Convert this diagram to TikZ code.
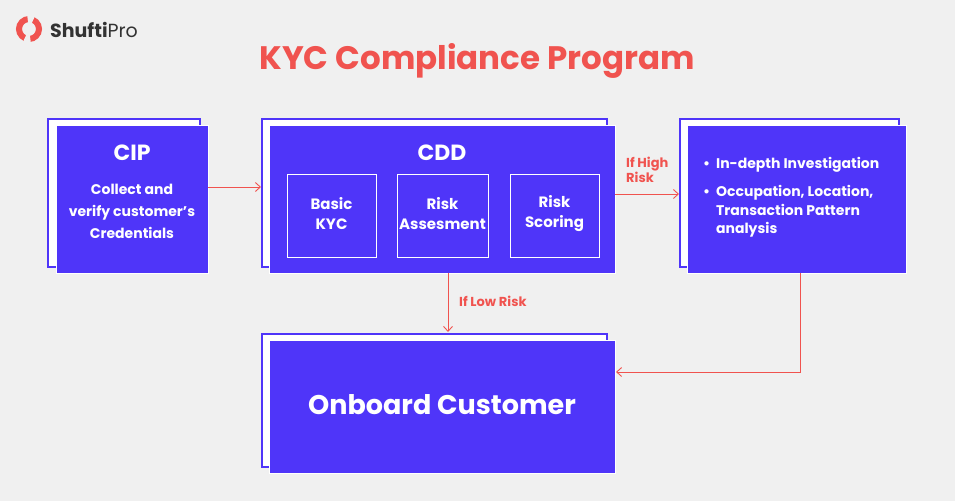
\documentclass[tikz,border=0pt]{standalone}
\usepackage{fontspec}
\setmainfont{Poppins}
\usetikzlibrary{arrows.meta}
\definecolor{bg}{HTML}{F0F0F0}
\definecolor{bl}{HTML}{4F35F9}
\definecolor{rd}{HTML}{F0534F}
\tikzset{
 back/.style={draw=bl,line width=2.5pt,fill=white},
 front/.style={fill=bl,draw=white,line width=0.8pt},
 inner/.style={draw=white,line width=0.8pt},
 arr/.style={draw=rd,line width=0.9pt,-{Straight Barb[length=5pt,width=9pt]}},
 wt/.style={text=white,font=\bfseries,align=center},
 lab/.style={text=rd,font=\bfseries\fontsize{13}{15}\selectfont,align=left}
}
\begin{document}
\begin{tikzpicture}[x=1pt,y=-1pt]
\fill[bg] (0,0) rectangle (955,501);
\useasboundingbox (0,0) rectangle (955,501);
% logo
\draw[rd,line width=6pt] (29,29) circle (10);
\fill[bg] (27,14) -- (29,29) -- (36,14) -- cycle;
\fill[bg] (22,44) -- (29,29) -- (31,44) -- cycle;
\node[anchor=west,text=black!80,font=\fontsize{19}{19}\selectfont,inner sep=0] (logo) at (50,30) {\textbf{Shufti}Pro};
\node[text=rd,font=\bfseries\fontsize{32.5}{40}\selectfont] (title) at (477,61) {KYC Compliance Program};
% boxes
\draw[back] (48,119) rectangle (200,267);
\draw[front] (56,125) rectangle (208,273);
\node[wt,font=\bfseries\fontsize{22}{26}\selectfont] at (132,153) {CIP};
\node[wt,font=\bfseries\fontsize{14}{22}\selectfont] at (132,211) {Collect and\\verify customer's\\Credentials};
\draw[back] (262,119) rectangle (607,267);
\draw[front] (269,125) rectangle (615,273);
\node[wt,font=\bfseries\fontsize{22}{26}\selectfont] at (442,153) {CDD};
\draw[inner] (287,174) rectangle (376,257);
\draw[inner] (397,174) rectangle (488,257);
\draw[inner] (510,174) rectangle (599,257);
\node[wt,font=\bfseries\fontsize{15}{20}\selectfont] at (331.5,214) {Basic\\KYC};
\node[wt,font=\bfseries\fontsize{15}{20}\selectfont] at (442.5,214) {Risk\\Assesment};
\node[wt,font=\bfseries\fontsize{15}{20}\selectfont] at (554.5,214) {Risk\\Scoring};
\draw[back] (680,119) rectangle (899,267);
\draw[front] (687,125) rectangle (906,273);
\node[anchor=north west,text=white,font=\bfseries\fontsize{14}{18.5}\selectfont,align=left,inner sep=0] at (703,157) {%
\textbullet\ \ In-depth Investigation\\[10pt]
\textbullet\ \ Occupation, Location,\\
\phantom{\textbullet\ \ }Transaction Pattern\\
\phantom{\textbullet\ \ }analysis};
\draw[back] (262,334) rectangle (607,467);
\draw[front] (269,340) rectangle (615,473);
\node[wt,font=\bfseries\fontsize{27}{30}\selectfont] at (442,405) {Onboard Customer};
% connectors
\coordinate (a1) at (208,187); \coordinate (a2) at (261,187);
\draw[arr] (a1) -- (a2);
\coordinate (b1) at (615,194); \coordinate (b2) at (679,194);
\draw[arr] (b1) -- (b2);
\node[lab,anchor=west,inner sep=0] at (626,170) {If High\\Risk};
\coordinate (c1) at (448,273); \coordinate (c2) at (448,332);
\draw[arr] (c1) -- (c2);
\node[lab,anchor=west,inner sep=0] at (459,301) {If Low Risk};
\coordinate (d1) at (800,273); \coordinate (d2) at (616,372);
\draw[arr] (d1) |- (d2);
\end{tikzpicture}
\end{document}
